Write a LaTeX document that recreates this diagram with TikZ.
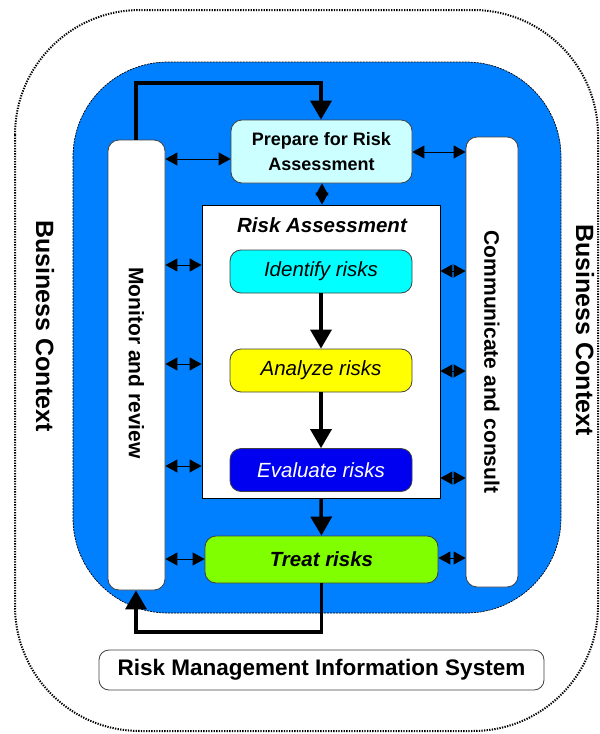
\documentclass[tikz,border=0pt]{standalone}
\usepackage{fontspec}
\setmainfont{Liberation Sans}
\usetikzlibrary{arrows.meta,calc}
\definecolor{bgblue}{HTML}{0080FF}
\definecolor{prepc}{HTML}{CCFFFF}
\definecolor{identc}{HTML}{00FFFF}
\definecolor{analc}{HTML}{FFFF00}
\definecolor{evalc}{HTML}{0000F0}
\definecolor{treatc}{HTML}{80FF00}
\definecolor{edgec}{HTML}{404040}
\newcommand{\fsz}[2]{\fontsize{#1}{#2}\selectfont}
\tikzset{
  box/.style={draw=edgec, line width=0.8pt, rounded corners=11pt, inner sep=0pt, align=center},
  stepbox/.style={box, minimum width=182pt, minimum height=43pt, font=\fsz{20.5}{24}\itshape},
  bigarrow/.style={line width=3.5pt, -{Triangle[width=21pt,length=19pt]}},
  dblarrow/.style={line width=0.9pt, {Triangle[width=13pt,length=12pt]}-{Triangle[width=13pt,length=12pt]}},
  sidetext/.style={rotate=-90, font=\fsz{21}{24}\bfseries},
  bctext/.style={rotate=-90, font=\fsz{25}{28}\bfseries}
}
\begin{document}
\begin{tikzpicture}[x=1pt,y=-1pt]
\useasboundingbox (0,0) rectangle (600,734);
% outer business context border
\draw[line width=2pt, dash pattern=on 1.3pt off 1.3pt, rounded corners=125pt] (15,10) rectangle (598,731);
% blue region
\draw[fill=bgblue, draw=black, line width=0.7pt, dash pattern=on 2pt off 1pt, rounded corners=95pt] (73,62) rectangle (561,613);
% side boxes
\node[box, fill=white, minimum width=57pt, minimum height=450pt] (mon) at (136.5,365) {};
\node[sidetext] at (136.5,363) {Monitor and review};
\node[box, fill=white, minimum width=52pt, minimum height=450pt] (comm) at (492,362) {};
\node[sidetext] at (492,362) {Communicate and consult};
% prepare
\node[box, fill=prepc, minimum width=181pt, minimum height=63pt, font=\fsz{18}{25}\bfseries] (prep) at (321.5,151.5) {Prepare for Risk\\Assessment};
% risk assessment box
\node[draw=black, line width=0.8pt, fill=white, minimum width=238pt, minimum height=293pt, inner sep=0pt] (ra) at (321,351.5) {};
\node[font=\fsz{20.5}{23}\bfseries\itshape] (ratitle) at (322,225) {Risk Assessment};
\node[stepbox, fill=identc] (ident) at (321,271.5) {Identify risks};
\node[stepbox, fill=analc] (anal) at (321,370.5) {Analyze risks};
\node[stepbox, fill=evalc, text=white] (eval) at (321,470) {Evaluate risks};
\node[box, fill=treatc, minimum width=233pt, minimum height=47pt, font=\fsz{20.5}{24}\bfseries\itshape] (treat) at (321.5,559.5) {Treat risks};
% RMIS
\node[box, fill=white, rounded corners=10pt, minimum width=445pt, minimum height=40pt, font=\fsz{22.5}{25}\bfseries] (rmis) at (321.5,670) {Risk Management Information System};
% business context labels
\node[bctext] (bcl) at (45,326) {Business Context};
\node[bctext] (bcr) at (585,330) {Business Context};
% main flow arrows
\draw[bigarrow] (ident.south) -- (anal.north);
\draw[bigarrow] (anal.south) -- (eval.north);
\draw[bigarrow] (eval.south |- ra.south) -- (treat.north);
\coordinate (topc) at (321,83);
\coordinate (botc) at (136,632);
\draw[bigarrow] (mon.north -| 136,0) |- (topc) -- (prep.north -| topc);
\draw[bigarrow] (treat.south) |- (botc) -- (mon.south -| botc);
% double arrows
\draw[dblarrow] (mon.east |- 0,159) -- (prep.west |- 0,159);
\draw[dblarrow] (prep.east |- 0,152) -- (comm.west |- 0,152);
\draw[dblarrow] (prep.south -| 322,0) -- (ra.north -| 322,0);
\foreach \yy in {265,364,466} \draw[dblarrow] (mon.east |- 0,\yy) -- (ra.west |- 0,\yy);
\draw[dblarrow] (mon.east |- 0,559) -- (treat.west |- 0,559);
\foreach \yy in {271,371,478} \draw[dblarrow] (ra.east |- 0,\yy) -- (comm.west |- 0,\yy);
\draw[dblarrow] (treat.east |- 0,558) -- (comm.west |- 0,558);
\end{tikzpicture}
\end{document}
